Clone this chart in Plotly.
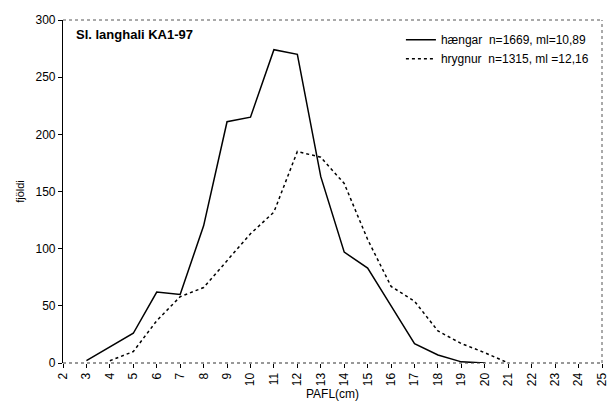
import plotly.graph_objects as go

lengths_m = [3, 4, 5, 6, 7, 8, 9, 10, 11, 12, 13, 14, 15, 16, 17, 18, 19, 20]
haengar = [2, 14, 26, 62, 60, 120, 211, 215, 274, 270, 163, 97, 83, 50, 17, 7, 1, 0]
lengths_f = [4, 5, 6, 7, 8, 9, 10, 11, 12, 13, 14, 15, 16, 17, 18, 19, 20, 21]
hrygnur = [2, 10, 37, 58, 66, 90, 113, 132, 185, 180, 157, 108, 67, 54, 28, 17, 9, 0]
x_ticks = list(range(2, 26))
y_ticks = [0, 50, 100, 150, 200, 250, 300]

font = "Liberation Sans, Arial, sans-serif"

fig = go.Figure()
fig.add_trace(go.Scatter(x=lengths_m, y=haengar, mode="lines",
                         line=dict(color="black", width=1.5),
                         name="hængar&nbsp;&nbsp;n=1669, ml=10,89"))
fig.add_trace(go.Scatter(x=lengths_f, y=hrygnur, mode="lines",
                         line=dict(color="black", width=1.5, dash="dot"),
                         name="hrygnur&nbsp;&nbsp;n=1315, ml =12,16"))

fig.update_layout(
    width=608, height=409,
    margin=dict(l=63, r=6, t=20, b=46, autoexpand=False),
    paper_bgcolor="white", plot_bgcolor="white",
    font=dict(family=font, size=12, color="black"),
    showlegend=True,
    legend=dict(x=0.985, y=0.985, xanchor="right", yanchor="top",
                bgcolor="rgba(0,0,0,0)", font=dict(size=12),
                itemwidth=30, tracegroupgap=0),
    xaxis=dict(range=[2, 25], tickvals=x_ticks, ticktext=[str(v) for v in x_ticks],
               tickangle=-90, ticks="outside", ticklen=4, tickcolor="black",
               showgrid=False, zeroline=False, showline=False, automargin=False,
               ticklabeloverflow="allow",
               title=dict(text="PAFL(cm)", font=dict(size=12), standoff=4),
               tickfont=dict(size=12)),
    yaxis=dict(range=[0, 300], tickvals=y_ticks, ticks="outside", ticklen=4,
               tickcolor="black", showgrid=False, zeroline=False, automargin=False,
               showline=True, linecolor="black", linewidth=1.2,
               title=dict(text="fjöldi", font=dict(size=11), standoff=8),
               tickfont=dict(size=12)),
)

# dotted frame (top, right, bottom)
fig.add_shape(type="line", xref="paper", yref="paper", x0=0, x1=1, y0=1, y1=1,
              line=dict(color="#555", width=1, dash="dot"))
fig.add_shape(type="line", xref="paper", yref="paper", x0=1, x1=1, y0=0, y1=1,
              line=dict(color="#555", width=1, dash="dot"))
fig.add_shape(type="line", xref="paper", yref="paper", x0=0, x1=1, y0=0, y1=0,
              line=dict(color="#333", width=1.2, dash="dot"))

fig.add_annotation(text="<b>Sl. langhali KA1-97</b>", xref="paper", yref="paper",
                   x=0.02, y=0.985, xanchor="left", yanchor="top", showarrow=False,
                   font=dict(size=13, family=font))

fig.write_html("out.html", config={"displayModeBar": False},
               post_script="document.body.style.margin='0px';document.body.style.overflow='hidden';")
